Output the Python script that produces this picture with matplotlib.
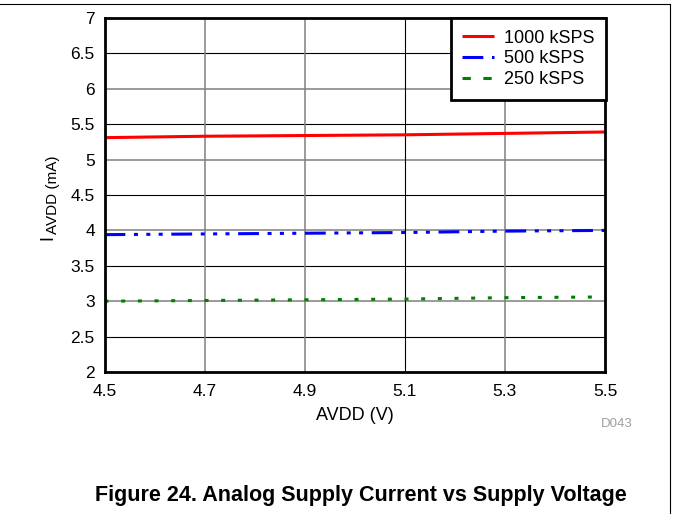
import matplotlib
matplotlib.use("Agg")
import matplotlib.pyplot as plt
from matplotlib.lines import Line2D

plt.rcParams["font.family"] = ["Liberation Sans", "DejaVu Sans"]
plt.rcParams["lines.scale_dashes"] = False

# supply voltage sweep and measured analog supply current
avdd = [4.5, 4.7, 4.9, 5.1, 5.3, 5.5]
i_1000 = [5.31, 5.33, 5.34, 5.35, 5.37, 5.39]
i_500 = [3.94, 3.95, 3.96, 3.97, 3.99, 4.00]
i_250 = [3.00, 3.01, 3.02, 3.03, 3.05, 3.06]
labels = ["1000 kSPS", "500 kSPS", "250 kSPS"]

x_ticks = [4.5, 4.7, 4.9, 5.1, 5.3, 5.5]
y_ticks = [2, 2.5, 3, 3.5, 4, 4.5, 5, 5.5, 6, 6.5, 7]

W, H = 673, 514
fig = plt.figure(figsize=(W / 100, H / 100), dpi=100)
ax = fig.add_axes([104.5 / W, 1 - 372 / H, 500.5 / W, 354 / H])

# grid: integer rows grey, half rows black
for y in y_ticks[1:-1]:
    if float(y).is_integer():
        ax.axhline(y, color="#808080", lw=1.1, zorder=1)
    else:
        ax.axhline(y, color="black", lw=0.8, zorder=1)
for x, c in zip(x_ticks[1:-1], ["#808080", "#808080", "black", "#808080"]):
    ax.axvline(x, color=c, lw=1.1 if c != "black" else 0.8, zorder=1)

lw = 2.2
ax.plot(avdd, i_1000, color="red", lw=lw, solid_capstyle="butt", label=labels[0], zorder=3)
ax.plot(avdd, i_500, color="blue", lw=lw, dash_capstyle="butt",
        dashes=(15, 6.2, 2.9, 6.0, 2.9, 6.0, 2.9, 6.2), label=labels[1], zorder=3)
ax.plot(avdd, i_250, color="green", lw=lw, dash_capstyle="butt",
        dashes=(2.9, 9.1), label=labels[2], zorder=3)

ax.set_xlim(4.5, 5.5)
ax.set_ylim(2, 7)
ax.set_xticks(x_ticks)
ax.set_xticklabels([f"{v:.1f}" for v in x_ticks])
ax.set_yticks(y_ticks)
ax.set_yticklabels([f"{v:g}" for v in y_ticks])
ax.tick_params(length=0, labelsize=12.5)
ax.tick_params(axis="x", pad=9)
ax.tick_params(axis="y", pad=7)

for s in ax.spines.values():
    s.set_linewidth(2.0)
    s.set_color("black")
    s.set_zorder(4)

# axis titles
fig.text(354.75 / W, 1 - 415.5 / H, "AVDD (V)", fontsize=13, ha="center", va="center")
fig.text(52.5 / W, 1 - 240 / H, "I", fontsize=13, rotation=90,
         rotation_mode="anchor", ha="left", va="baseline")
fig.text(57.3 / W, 1 - 155 / H, "AVDD (mA)", fontsize=11, rotation=90,
         rotation_mode="anchor", ha="right", va="baseline")

# legend swatches: green shown as short dashes
handles = [
    Line2D([], [], color="red", lw=lw, solid_capstyle="butt"),
    Line2D([], [], color="blue", lw=lw, dash_capstyle="butt", dashes=(15, 6.2, 4.5, 6)),
    Line2D([], [], color="green", lw=lw, dash_capstyle="butt", dashes=(6, 9)),
]
leg = ax.legend(handles, labels, loc="upper right", bbox_to_anchor=(1.002, 1.0),
                fontsize=13, frameon=True, fancybox=False, edgecolor="black",
                framealpha=1, handlelength=1.75, handletextpad=0.55,
                labelspacing=0.2, borderpad=0.65, borderaxespad=0)
leg.get_frame().set_linewidth(2.0)
leg.set_zorder(5)

fig.text(617 / W, 1 - 424 / H, "D043", color="#a0a0a0", fontsize=9.5,
         ha="center", va="center")
fig.text(361 / W, 1 - 496 / H, "Figure 24. Analog Supply Current vs Supply Voltage",
         fontsize=15.5, fontweight="bold", ha="center", va="center")

# page frame along top and right edge
fig.add_artist(Line2D([0, 670 / W], [1 - 4 / H, 1 - 4 / H], color="black", lw=0.8))
fig.add_artist(Line2D([670 / W, 670 / W], [0, 1 - 4 / H], color="black", lw=0.8))

fig.savefig("out.png", dpi=100)
